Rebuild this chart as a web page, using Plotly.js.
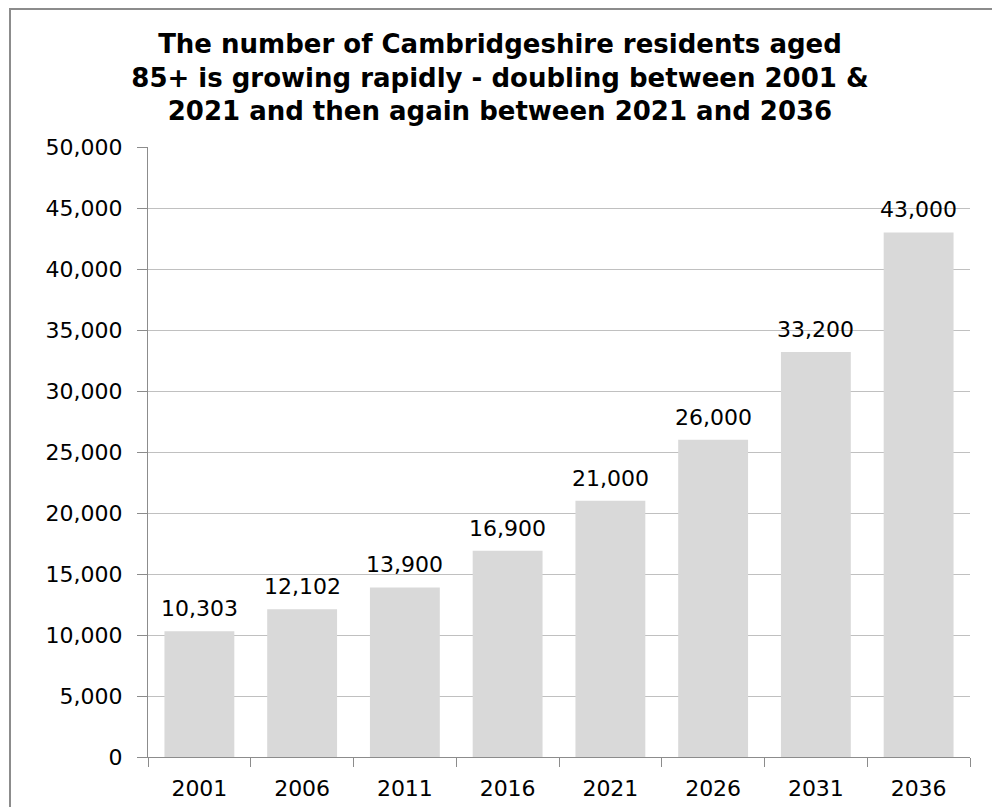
<!DOCTYPE html>
<html>
<head>
<meta charset="utf-8">
<script src="https://cdn.plot.ly/plotly-3.0.1.min.js"></script>
<style>
html,body{margin:0;padding:0;background:#fff;}
#wrap{position:relative;width:992px;height:807px;overflow:hidden;}
#frame{position:absolute;left:9px;top:8px;width:990px;height:820px;border-left:2px solid #8c8c8c;border-top:2px solid #8c8c8c;box-sizing:border-box;}
#chart{position:absolute;left:0;top:0;width:992px;height:807px;}
</style>
</head>
<body>
<div id="wrap">
<div id="frame"></div>
<div id="chart"></div>
</div>
<script>
const years = ['2001','2006','2011','2016','2021','2026','2031','2036'];
const residents85 = [10303, 12102, 13900, 16900, 21000, 26000, 33200, 43000];
const valueLabels = ['10,303','12,102','13,900','16,900','21,000','26,000','33,200','43,000'];
const yTickVals = [0,5000,10000,15000,20000,25000,30000,35000,40000,45000,50000];
const yTickText = ['0','5,000','10,000','15,000','20,000','25,000','30,000','35,000','40,000','45,000','50,000'];
const titleText = 'The number of Cambridgeshire residents aged<br>85+ is growing rapidly - doubling between 2001 &amp;<br>2021 and then again between 2021 and 2036';

const labelFont = {family:'DejaVu Sans, sans-serif', size:22, color:'#000'};

// category index i corresponds to years[i]
const annotations = years.map((yr, i) => ({
  x: i, y: residents85[i], xref:'x', yref:'y',
  text: valueLabels[i], showarrow:false,
  xanchor:'center', yanchor:'bottom', yshift:8,
  font: labelFont
}));

Plotly.newPlot('chart', [{
  type:'bar',
  x: years,
  y: residents85,
  marker:{color:'#d9d9d9'},
  hoverinfo:'none'
}], {
  width:992, height:807,
  paper_bgcolor:'rgba(0,0,0,0)',
  plot_bgcolor:'rgba(0,0,0,0)',
  margin:{l:148, r:22, t:147, b:50},
  bargap:0.32,
  showlegend:false,
  annotations: annotations,
  title:{text:titleText, font:{family:'DejaVu Sans, sans-serif', size:26, color:'#000', weight:'bold'}, x:0.504, xref:'container', xanchor:'center', yref:'container', y:0.9345, yanchor:'middle'},
  xaxis:{
    type:'category',
    range:[-0.5, years.length - 0.5],
    showline:true, linecolor:'#8c8c8c', linewidth:1,
    ticks:'outside', ticklen:9, tickcolor:'#8c8c8c', tickson:'boundaries',
    ticklabelstandoff:12,
    tickfont: labelFont,
    showgrid:false
  },
  yaxis:{
    range:[0,50000],
    tickvals:yTickVals, ticktext:yTickText,
    showline:true, linecolor:'#8c8c8c', linewidth:1,
    ticks:'outside', ticklen:10, tickcolor:'#8c8c8c',
    ticklabelstandoff:10,
    tickfont: labelFont,
    showgrid:true, gridcolor:'#c0c0c0', gridwidth:1,
    zeroline:false
  }
}, {staticPlot:true});
</script>
</body>
</html>
